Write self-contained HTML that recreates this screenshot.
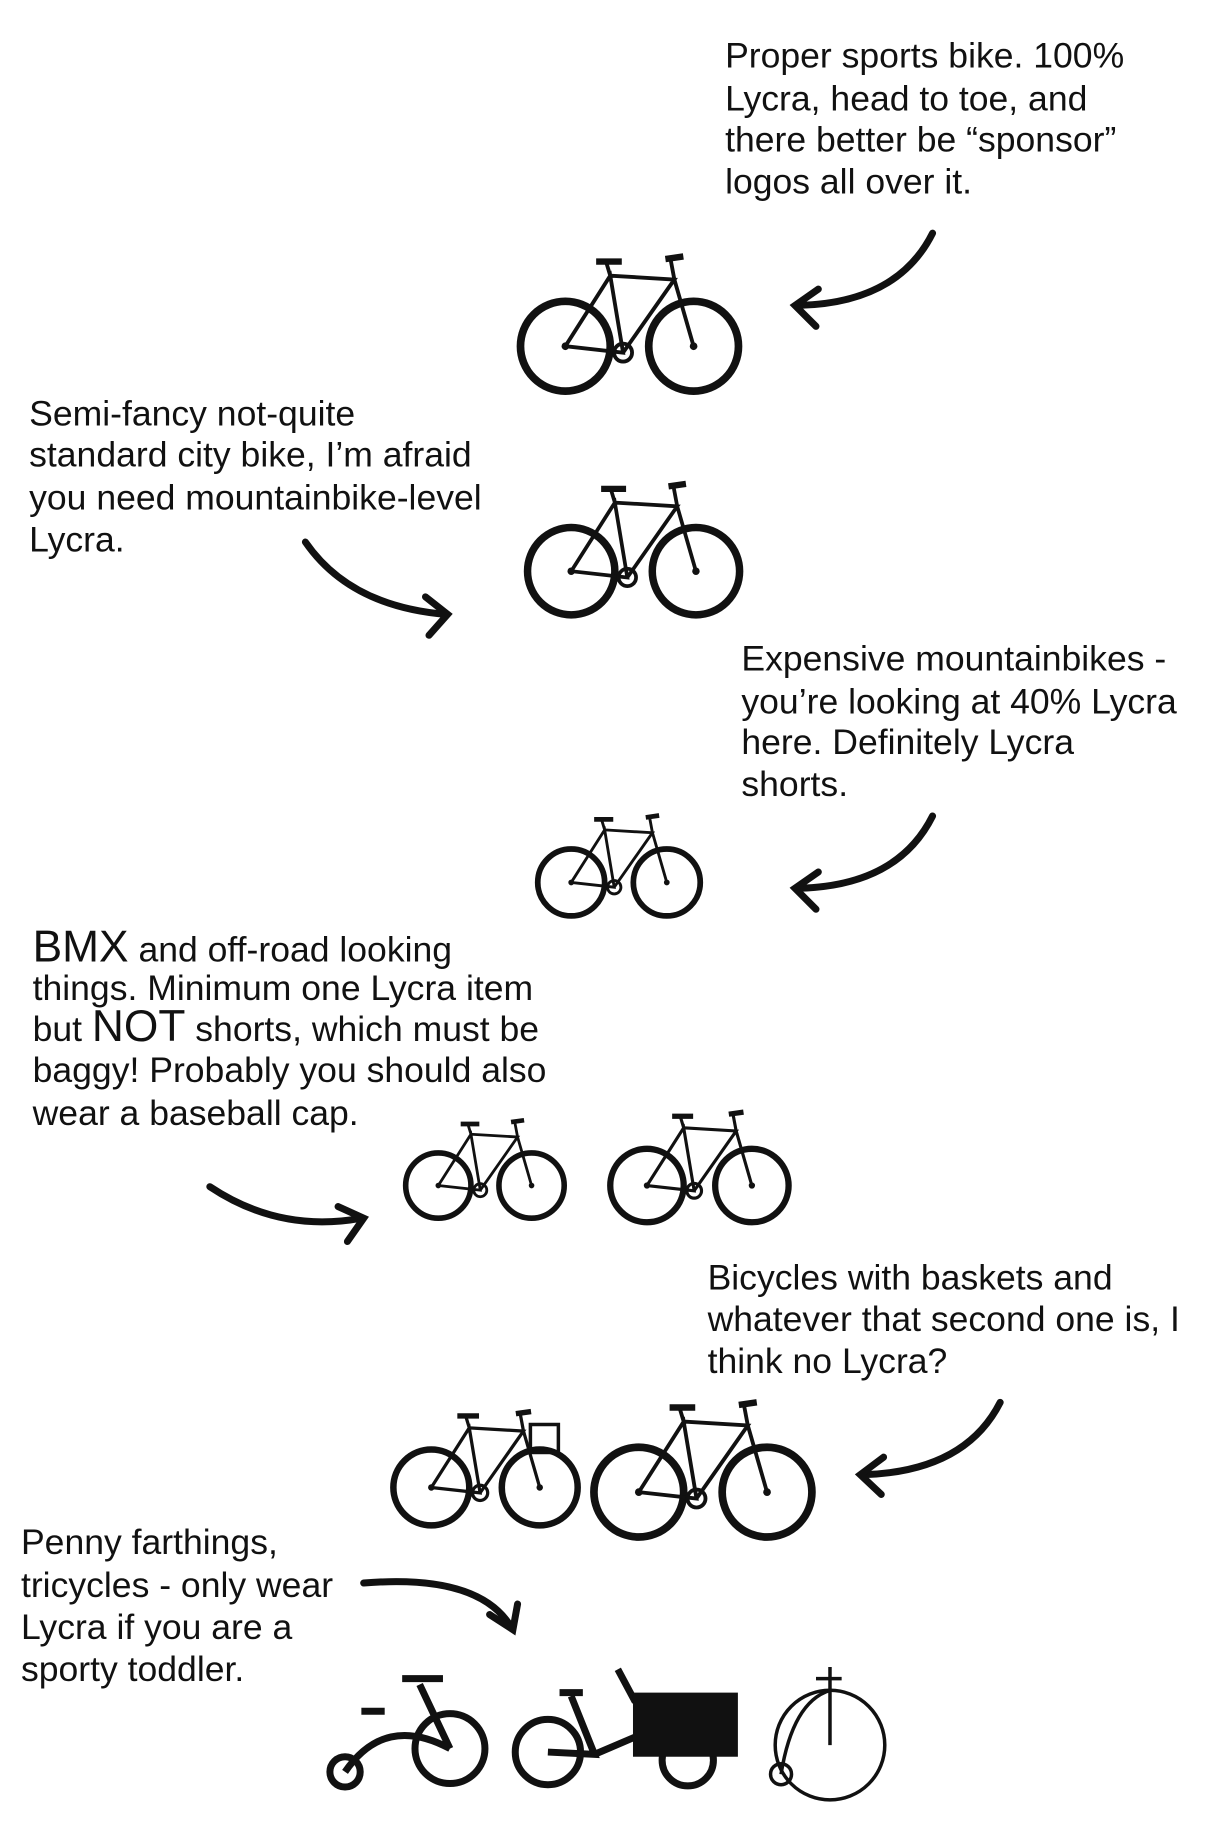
<!DOCTYPE html>
<html><head><meta charset="utf-8"><style>
html,body{margin:0;padding:0;background:#fff;overflow:hidden;}
svg{display:block}
text{font-family:"Liberation Sans Narrow","Liberation Sans",sans-serif;font-size:30.5px;fill:#111;}
</style></head><body>
<svg width="1224" height="1836" viewBox="0 0 1050 1575" preserveAspectRatio="none" xmlns="http://www.w3.org/2000/svg">
<defs>
<g id="bike">
  <g fill="none" stroke="#111" stroke-width="3">
    <circle cx="0" cy="0" r="35" stroke-width="6"/>
    <circle cx="100" cy="0" r="35" stroke-width="6"/>
    <path d="M0 0 L45 5 L35 -55 L0 0 M35 -55 L85 -52 L45 5 M85 -52 L100 0 M35 -55 L32 -65 M85 -52 L82 -68"/>
    <path d="M24 -66 L44 -66 M78 -68 L92 -70" stroke-width="5"/>
    <circle cx="45" cy="5" r="7"/>
  </g>
  <circle cx="0" cy="0" r="3" fill="#111"/><circle cx="100" cy="0" r="3" fill="#111"/>
</g>
</defs>

<g>
<text x="622" y="58">Proper sports bike. 100%</text>
<text x="622" y="95">Lycra, head to toe, and</text>
<text x="622" y="130">there better be “sponsor”</text>
<text x="622" y="166">logos all over it.</text>

<text x="25" y="365">Semi-fancy not-quite</text>
<text x="25" y="400">standard city bike, I’m afraid</text>
<text x="25" y="437">you need mountainbike-level</text>
<text x="25" y="473">Lycra.</text>

<text x="636" y="575">Expensive mountainbikes -</text>
<text x="636" y="612">you’re looking at 40% Lycra</text>
<text x="636" y="647">here. Definitely Lycra</text>
<text x="636" y="683">shorts.</text>

<text x="28" y="825"><tspan font-size="38">BMX</tspan> and off-road looking</text>
<text x="28" y="858">things. Minimum one Lycra item</text>
<text x="28" y="893">but <tspan font-size="38">NOT</tspan> shorts, which must be</text>
<text x="28" y="928">baggy! Probably you should also</text>
<text x="28" y="965">wear a baseball cap.</text>

<text x="607" y="1106">Bicycles with baskets and</text>
<text x="607" y="1142">whatever that second one is, I</text>
<text x="607" y="1178">think no Lycra?</text>

<text x="18" y="1333">Penny farthings,</text>
<text x="18" y="1370">tricycles - only wear</text>
<text x="18" y="1406">Lycra if you are a</text>
<text x="18" y="1442">sporty toddler.</text>
</g>

<g fill="none" stroke="#111" stroke-width="6" stroke-linecap="round">
<path d="M800 200 Q770 260 685 262"/><path d="M702 248 L682 262 L700 280"/>
<path d="M262 465 Q300 520 382 527"/><path d="M365 512 L384 527 L368 545"/>
<path d="M800 700 Q770 760 685 762"/><path d="M702 748 L682 762 L700 780"/>
<path d="M180 1018 Q240 1058 310 1045"/><path d="M290 1035 L312 1045 L298 1065"/>
<path d="M858 1203 Q828 1262 742 1265"/><path d="M758 1250 L738 1265 L756 1282"/>
<path d="M312 1358 Q410 1350 438 1395"/><path d="M420 1385 L440 1398 L444 1376"/>
</g>

<use href="#bike" transform="translate(485,297) scale(1.1)"/>
<use href="#bike" transform="translate(490,490) scale(1.07)"/>
<use href="#bike" transform="translate(490,757) scale(0.82)"/>
<use href="#bike" transform="translate(376,1017) scale(0.8)"/>
<use href="#bike" transform="translate(555,1017) scale(0.9)"/>
<use href="#bike" transform="translate(370,1276) scale(0.93)"/>
<rect x="455" y="1222" width="24" height="24" fill="none" stroke="#111" stroke-width="3"/>
<use href="#bike" transform="translate(548,1280) scale(1.1)"/>

<g fill="none" stroke="#111" stroke-width="6">
<circle cx="386" cy="1500" r="30"/><circle cx="296" cy="1520" r="13"/>
<path d="M296 1520 Q330 1470 386 1500 M386 1500 L360 1445 M345 1440 L380 1440 M310 1468 L330 1468"/>
</g>
<g fill="none" stroke="#111" stroke-width="6">
<circle cx="470" cy="1503" r="28"/><circle cx="590" cy="1510" r="22"/>
<path d="M470 1503 L510 1505 L490 1455 M510 1505 L545 1490 M480 1452 L500 1452 M530 1432 L545 1460"/>
</g>
<rect x="543" y="1452" width="90" height="55" fill="#111"/>
<g fill="none" stroke="#111" stroke-width="3">
<circle cx="712" cy="1497" r="47"/><circle cx="670" cy="1522" r="9"/>
<path d="M712 1497 L712 1430 M700 1440 L722 1440 M670 1522 Q680 1460 712 1450"/>
</g>
</svg>
</body></html>
